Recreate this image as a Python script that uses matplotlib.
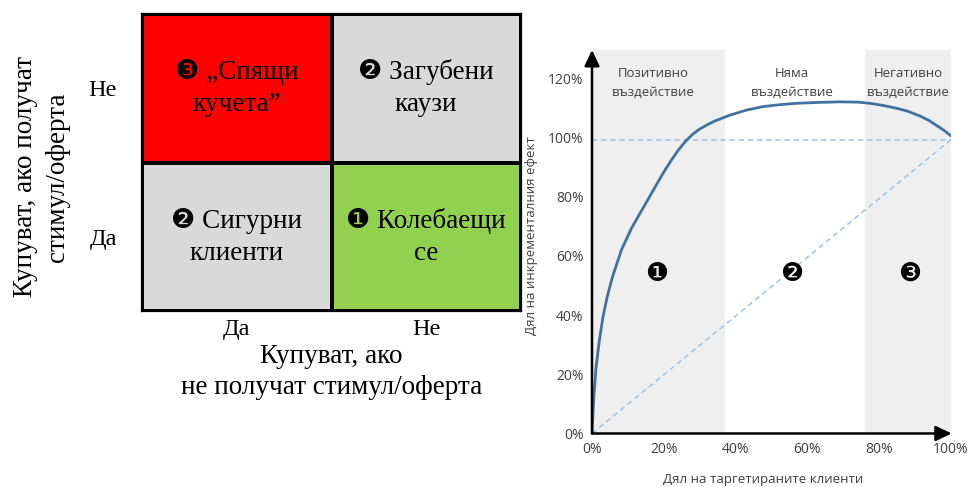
import matplotlib
matplotlib.use("Agg")
import matplotlib.pyplot as plt
from matplotlib.colors import ListedColormap
import numpy as np

# ---------------- data ----------------
# Left: 2x2 segmentation matrix
row_labels = ["Не", "Да"]            # buy if they receive the offer (top -> bottom)
col_labels = ["Да", "Не"]            # buy if they do not receive the offer
segment_type = [[3, 2],              # 1 = persuadable, 2 = neutral, 3 = do-not-disturb
                [2, 1]]
segment_names = [["❸ „Спящи\nкучета”", "❷ Загубени\nкаузи"],
                 ["❷ Сигурни\nклиенти", "❶ Колебаещи\nсе"]]
segment_colors = ["#92D050", "#D9D9D9", "#FF0000"]

# Right: uplift curve (share of targeted customers vs share of incremental effect, %)
targeted_share = [0, 0.5, 1.1, 2.0, 3.0, 4.2, 5.6, 8.2, 11, 14.2, 17.9, 20, 22.1, 24,
                  26, 28, 30, 32, 34.2, 38.4, 43, 47.7, 52, 57, 63, 69.1, 74, 77.4,
                  81, 84.9, 88, 91.4, 94, 96, 98, 100]
incremental_effect = [0, 12, 22, 31, 39, 46, 52.5, 62, 69.3, 76.1, 83.9, 88.3, 92.3, 95.6,
                      98.6, 101.0, 102.8, 104.2, 105.5, 107.5, 109.2, 110.4, 111.0, 111.5,
                      111.8, 112.0, 111.9, 111.5, 110.8, 109.8, 108.8, 107.2, 105.6, 104.0,
                      102.4, 100.5]
random_level = 99.2
zones = [(0, 37, "Позитивно\nвъздействие", "❶", 17, 18),
         (37, 76, "Няма\nвъздействие", "❷", 55.7, 55.5),
         (76, 100, "Негативно\nвъздействие", "❸", 88, 88.5)]
shaded_zones = ["Позитивно\nвъздействие", "Негативно\nвъздействие"]
tick_values = [0, 20, 40, 60, 80, 100]
ytick_values = [0, 20, 40, 60, 80, 100, 120]

# ---------------- figure ----------------
W, H = 969, 487
fig = plt.figure(figsize=(W / 100, H / 100), dpi=100)

def px_axes(left, top, right, bottom):
    return fig.add_axes([left / W, 1 - bottom / H, (right - left) / W, (bottom - top) / H])

serif = ["Liberation Serif", "DejaVu Sans"]

# ----- left matrix -----
axm = px_axes(142, 14, 521, 311)
cmap = ListedColormap(segment_colors)
axm.pcolormesh(np.arange(3), np.arange(3), np.array(segment_type)[::-1],
               cmap=cmap, vmin=0.5, vmax=3.5, edgecolors="black", linewidth=1.6)
axm.set_xlim(0, 2)
axm.set_ylim(0, 2)
for r in range(2):
    for c in range(2):
        axm.text(c + 0.5, 1.5 - r, segment_names[r][c], ha="center", va="center",
                 fontsize=19.5, family=serif, linespacing=1.35)
for s in axm.spines.values():
    s.set_linewidth(1.6)
axm.tick_params(length=0)
axm.set_xticks([0.5, 1.5])
axm.set_xticklabels(col_labels, family=serif, fontsize=17.5)
axm.set_yticks([1.5, 0.5])
axm.set_yticklabels(row_labels, family=serif, fontsize=17.5)
axm.tick_params(axis="x", pad=6)
axm.tick_params(axis="y", pad=18)
axm.set_xlabel("Купуват, ако\nне получат стимул/оферта", family=serif, fontsize=19.5,
               linespacing=1.3)
axm.xaxis.label.set_va("center")
axm.xaxis.set_label_coords(0.5, -0.206)
axm.set_ylabel("Купуват, ако получат\nстимул/оферта", family=serif, fontsize=19.5,
               linespacing=1.38)
axm.yaxis.label.set_va("center")
axm.yaxis.set_label_coords(-0.266, 0.452)

# ----- right uplift curve -----
sans = ["Open Sans", "DejaVu Sans"]
ax = px_axes(592, 50, 951, 433.5)
ax.set_xlim(0, 100)
ax.set_ylim(0, 129.5)
for x0, x1, label, mark, lx, mx in zones:
    if label in shaded_zones:
        ax.axvspan(x0, x1, color="#EFEFEF", lw=0, zorder=0)
    ax.text(lx, 118.3, label, ha="center", va="center", fontsize=9.5, color="#404040",
            family=sans, linespacing=1.6)
    ax.text(mx, 54, mark, ha="center", va="center", fontsize=18.5, color="black",
            family=["DejaVu Sans"])

ax.axhline(random_level, color="#9DC3E6", lw=1.1, ls=(0, (3.5, 2.5)), zorder=1)
ax.plot([0, 100], [0, random_level], color="#9DC3E6", lw=1.1, ls=(0, (3.5, 2.5)), zorder=1)
ax.plot(targeted_share, incremental_effect, color="#41729F", lw=2.0, zorder=3,
        solid_capstyle="round", solid_joinstyle="round")

for s in ax.spines.values():
    s.set_visible(False)
arrow = dict(arrowstyle="-|>,head_length=0.8,head_width=0.38", color="black", lw=1.8,
             shrinkA=0, shrinkB=0, mutation_scale=12)
ax.annotate("", xy=(0, 129.5), xytext=(0, 0), arrowprops=arrow, annotation_clip=False)
ax.annotate("", xy=(100.2, 0), xytext=(0, 0), arrowprops=arrow, annotation_clip=False)

ax.set_xticks(tick_values)
ax.set_xticklabels([f"{v}%" for v in tick_values])
ax.set_yticks(ytick_values)
ax.set_yticklabels([f"{v}%" for v in ytick_values])
ax.tick_params(length=0, labelsize=10, labelcolor="#404040", pad=6)
for t in ax.get_xticklabels() + ax.get_yticklabels():
    t.set_family(sans)

fig.text(532 / W, 1 - 236 / H, "Дял на инкременталния ефект", rotation=90,
         ha="center", va="center", fontsize=9.5, color="#404040", family=sans)
fig.text(763 / W, 1 - 480 / H, "Дял на таргетираните клиенти",
         ha="center", va="center", fontsize=9.5, color="#404040", family=sans)

fig.savefig("out.png", dpi=100)
